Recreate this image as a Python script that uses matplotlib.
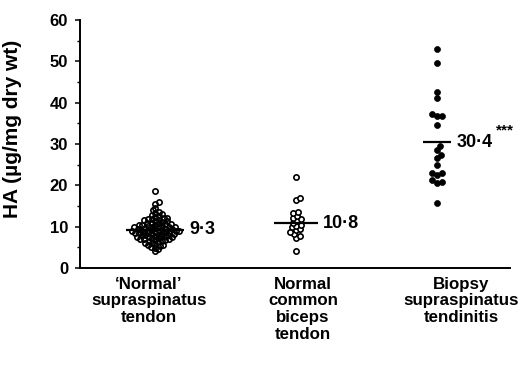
import numpy as np
import matplotlib.pyplot as plt
from matplotlib.ticker import MultipleLocator

plt.rcParams['font.family'] = ['Liberation Sans', 'DejaVu Sans']
plt.rcParams['font.weight'] = 'bold'
plt.rcParams['axes.labelweight'] = 'bold'

# data
categories = ['\u2018Normal\u2019\nsupraspinatus\ntendon',
              'Normal\ncommon\nbiceps\ntendon',
              'Biopsy\nsupraspinatus\ntendinitis']
means = [9.3, 10.8, 30.4]
mean_labels = ['9\u00b73', '10\u00b78', '30\u00b74']

normal_supra = [18.6, 16.0, 15.6, 14.6, 14.0, 13.6, 13.4, 13.1, 12.8, 12.6,
                12.4, 12.2, 12.0, 11.9, 11.8, 11.7, 11.5, 11.4, 11.3, 11.2,
                11.0, 10.9, 10.8, 10.7, 10.6, 10.5, 10.4, 10.3, 10.2, 10.1,
                10.0, 10.0, 9.9, 9.8, 9.8, 9.7, 9.6, 9.5, 9.5, 9.4,
                9.3, 9.3, 9.2, 9.1, 9.0, 9.0, 8.9, 8.9, 8.8, 8.7,
                8.7, 8.6, 8.5, 8.5, 8.4, 8.3, 8.2, 8.2, 8.1, 8.0,
                7.9, 7.9, 7.8, 7.7, 7.6, 7.5, 7.5, 7.4, 7.3, 7.2,
                7.1, 7.0, 6.9, 6.8, 6.7, 6.6, 6.5, 6.3, 6.1, 6.0,
                5.8, 5.6, 5.5, 5.3, 5.1, 4.9, 4.5, 4.0]
normal_biceps = [22.0, 16.9, 16.5, 13.6, 13.3, 12.6, 12.0, 11.8, 11.3, 10.9,
                 10.5, 10.2, 9.8, 9.4, 9.1, 8.6, 8.2, 7.8, 7.3, 4.2]
tendinitis = [52.9, 49.5, 42.6, 41.1, 36.8, 37.3, 36.8, 34.6, 29.5, 28.5,
              27.3, 26.6, 24.9, 23.0, 22.5, 23.0, 21.3, 20.6, 20.8, 15.7]

groups = [normal_supra, normal_biceps, tendinitis]
face = ['none', 'white', 'black']
min_dist = [3.5, 4.2, 5.0]       # swarm spacing in pixels
half_w = [0.205, 0.153, 0.10]    # half width of mean bars
label_x = [0.957, 2.05, 3.17]

fig = plt.figure(figsize=(5.21, 3.67), dpi=100)
ax = fig.add_axes([80/521, 1 - 268/367, 430/521, 248/367])
ax.set_xlim(0.468, 3.518)
ax.set_ylim(0, 60)

# pixel scales for the swarm layout
px_x = 430 / (3.518 - 0.468)
px_y = 248 / 60.0


def swarm(vals, d):
    pts = []
    offs = []
    cand = [0.0]
    for k in np.arange(0.5, 80, 0.5):
        cand += [k, -k]
    for v in sorted(vals):
        y = v * px_y
        for c in cand:
            if all((c - ox) ** 2 + (y - oy) ** 2 >= d * d for ox, oy in pts):
                pts.append((c, y))
                offs.append(c)
                break
    return np.array(sorted(vals)), np.array(offs) / px_x


for i, vals in enumerate(groups):
    v, off = swarm(vals, min_dist[i])
    x = i + 1 + off
    if face[i] == 'black':
        ax.plot(x, v, 'o', ms=4.3, mfc='black', mec='black', mew=0.5, zorder=3)
    else:
        ax.plot(x, v, 'o', ms=3.8, mfc=face[i], mec='black', mew=1.2, zorder=3)
    ax.hlines(means[i], i + 1 - half_w[i], i + 1 + half_w[i], color='black',
              lw=1.6, zorder=4)
    ax.annotate(mean_labels[i], (i + 1 + half_w[i], means[i]),
                xytext=(4, 0), textcoords='offset points',
                ha='left', va='center', fontsize=13)
    ax.text(label_x[i], -0.035, categories[i], transform=ax.get_xaxis_transform(),
            ha='center', va='top', fontsize=12.2, linespacing=1.15)

ax.text(3.418, 32.4, '***', ha='left', va='baseline', fontsize=11)

ax.spines['top'].set_visible(False)
ax.spines['right'].set_visible(False)
ax.spines['left'].set_linewidth(1.4)
ax.spines['bottom'].set_linewidth(1.4)
ax.set_xticks([])
ax.yaxis.set_major_locator(MultipleLocator(10))
ax.yaxis.set_minor_locator(MultipleLocator(5))
ax.tick_params(axis='y', which='major', length=3.5, width=1.1, pad=5, labelsize=12)
ax.tick_params(axis='y', which='minor', length=2.2, width=1.0)
ax.set_ylabel('HA (\u00b5g/mg dry wt)', fontsize=15)
ax.yaxis.set_label_coords(-0.135, 0.56)

fig.savefig('out.png', dpi=100)
